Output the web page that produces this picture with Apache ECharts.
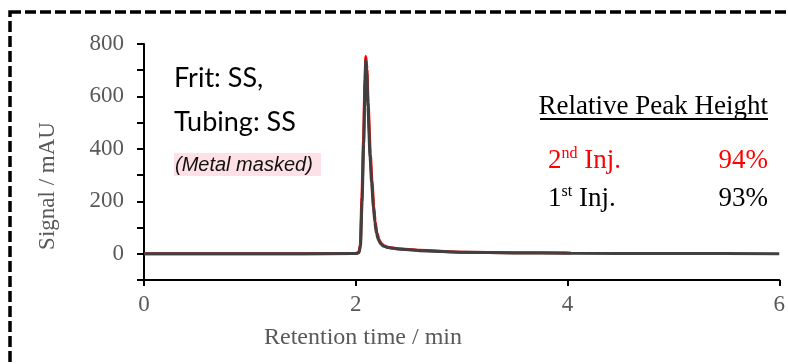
<!DOCTYPE html>
<html><head><meta charset="utf-8">
<script src="https://cdn.jsdelivr.net/npm/echarts@6/dist/echarts.min.js"></script>
<style>html,body{margin:0;padding:0;background:#fff}#c{width:788px;height:364px}</style>
</head><body><div id="c"></div>
<script>
// Retention time (min) and signal (mAU) for each injection
const inj1Time   = [0, 1.0, 2.0, 2.03, 2.045, 2.06, 2.075, 2.088, 2.095, 2.105, 2.115, 2.135, 2.15, 2.167, 2.18, 2.195, 2.215, 2.236, 2.26, 2.3, 2.4, 2.6, 3.0, 3.5, 4.0, 5.0, 6.0];
const inj1Signal = [0, 0, 1, 4, 30, 200, 420, 650, 738, 690, 560, 370, 270, 177, 120, 78, 52, 38, 30, 24, 18, 12, 6, 3, 2, 1, 0];
const inj2Time   = [0, 1.0, 2.0, 2.03, 2.043, 2.058, 2.073, 2.087, 2.095, 2.106, 2.117, 2.138, 2.153, 2.17, 2.183, 2.2, 2.22, 2.24, 2.265, 2.3, 2.4, 2.6, 3.0, 3.5, 4.03];
const inj2Signal = [0, 0, 1, 5, 35, 215, 430, 665, 752, 705, 575, 380, 280, 182, 124, 80, 54, 39, 31, 25, 19, 13, 6, 4, 3];
const xTicks = [0, 2, 4, 6];
const yTicks = [0, 200, 400, 600, 800];

const chart = echarts.init(document.getElementById('c'));
const serif = 'Liberation Serif';
const gray = '#595959';
function pairs(t, v){ return t.map((x,i)=>[x, v[i]]); }

chart.setOption({
  animation: false,
  grid: {left: 144, right: 5, top: 44, bottom: 84},
  xAxis: {
    type: 'value', min: 0, max: 6, interval: 2,
    axisLine: {show: true, onZero: false, lineStyle: {color: '#000', width: 2}},
    axisTick: {show: true, length: 6, lineStyle: {color: '#000', width: 2}},
    axisLabel: {fontFamily: serif, fontSize: 23, color: gray, margin: 13,
      formatter: v => xTicks.includes(v) ? String(v) : ''},
    splitLine: {show: false}
  },
  yAxis: {
    type: 'value', min: -100, max: 800, interval: 100,
    axisLine: {show: true, onZero: false, lineStyle: {color: '#000', width: 2}},
    axisTick: {show: true, length: 7, lineStyle: {color: '#000', width: 2}},
    axisLabel: {fontFamily: serif, fontSize: 23, color: gray, margin: 20,
      formatter: v => yTicks.includes(v) ? String(v) : ''},
    splitLine: {show: false}
  },
  series: [
    {type: 'line', name: '2nd Inj.', data: pairs(inj2Time, inj2Signal), showSymbol: false,
     smooth: 0.2, smoothMonotone: 'x', lineStyle: {color: '#ff0000', width: 3}, z: 2},
    {type: 'line', name: '1st Inj.', data: pairs(inj1Time, inj1Signal), showSymbol: false,
     smooth: 0.2, smoothMonotone: 'x', lineStyle: {color: '#404040', width: 3}, z: 3}
  ],
  graphic: [
    {type: 'rect', shape: {x: 10, y: 12, width: 820, height: 420}, z: 0,
     style: {fill: 'none', stroke: '#000', lineWidth: 3.5, lineDash: [11, 4]}},
    {type: 'text', x: 48, y: 186, rotation: Math.PI/2,
     style: {text: 'Signal / mAU', font: '23px "Liberation Serif"', fill: gray, align: 'center', verticalAlign: 'middle'}},
    {type: 'text', x: 363, y: 338,
     style: {text: 'Retention time / min', font: '24px "Liberation Serif"', fill: gray, align: 'center', verticalAlign: 'middle'}},
    {type: 'text', x: 174, y: 78,
     style: {text: 'Frit: SS,', font: '27px Lato', fill: '#000', align: 'left', verticalAlign: 'middle'}},
    {type: 'text', x: 174, y: 122,
     style: {text: 'Tubing: SS', font: '27px Lato', fill: '#000', align: 'left', verticalAlign: 'middle'}},
    {type: 'rect', shape: {x: 174, y: 153, width: 147, height: 23}, style: {fill: '#fde1e7'}},
    {type: 'text', x: 175, y: 165,
     style: {text: '(Metal masked)', font: 'italic 20px "Liberation Sans"', fill: '#111', align: 'left', verticalAlign: 'middle'}},
    {type: 'text', x: 768, y: 107,
     style: {text: 'Relative Peak Height', font: '27px "Liberation Serif"', fill: '#000', align: 'right', verticalAlign: 'middle'}},
    {type: 'line', shape: {x1: 540, y1: 119, x2: 768, y2: 119}, style: {stroke: '#000', lineWidth: 2}},
    {type: 'text', x: 548, y: 161,
     style: {text: '{a|2}{b|nd}{a| Inj.}', align: 'left', verticalAlign: 'middle',
       rich: {a: {fontFamily: serif, fontSize: 27, fill: '#ff0000', color: '#ff0000', lineHeight: 30},
              b: {fontFamily: serif, fontSize: 16, fill: '#ff0000', color: '#ff0000', verticalAlign: 'top', lineHeight: 30, padding: [0,0,10,0]}}}},
    {type: 'text', x: 768, y: 161,
     style: {text: '94%', font: '27px "Liberation Serif"', fill: '#ff0000', align: 'right', verticalAlign: 'middle'}},
    {type: 'text', x: 548, y: 199,
     style: {text: '{a|1}{b|st}{a| Inj.}', align: 'left', verticalAlign: 'middle',
       rich: {a: {fontFamily: serif, fontSize: 27, fill: '#000', color: '#000', lineHeight: 30},
              b: {fontFamily: serif, fontSize: 16, fill: '#000', color: '#000', verticalAlign: 'top', lineHeight: 30, padding: [0,0,10,0]}}}},
    {type: 'text', x: 768, y: 199,
     style: {text: '93%', font: '27px "Liberation Serif"', fill: '#000', align: 'right', verticalAlign: 'middle'}}
  ]
});
</script></body></html>
